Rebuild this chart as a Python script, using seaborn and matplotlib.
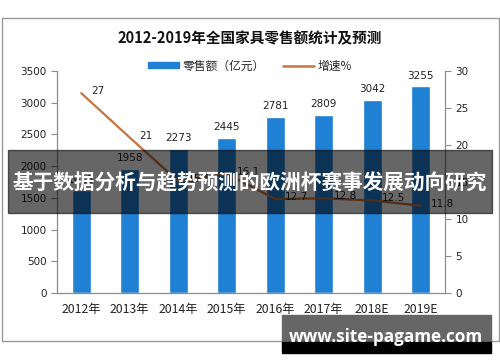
import numpy as np
import pandas as pd
import seaborn as sns
import matplotlib.pyplot as plt
from matplotlib.patches import Rectangle, Patch
from matplotlib.lines import Line2D

years = ['2012年', '2013年', '2014年', '2015年', '2016年', '2017年', '2018E', '2019E']
sales = [1618, 1958, 2273, 2445, 2781, 2809, 3042, 3255]
growth = [27, 21, 15.1, 16.1, 12.7, 12.8, 12.5, 11.8]

bar_color = '#1f80d4'
line_color = '#c8743e'
axis_gray = '#8c8c8c'

sns.set_style('white')
plt.rcParams['font.family'] = ['Noto Sans CJK SC', 'DejaVu Sans']

data = pd.DataFrame({'year': years, 'sales': sales, 'growth': growth})

fig = plt.figure(figsize=(5, 3.62), dpi=100)
ax = fig.add_axes([0.114, 0.1906, 0.776, 0.6134])

sns.barplot(data=data, x='year', y='sales', color=bar_color, width=0.4,
            saturation=1, ax=ax)
ax.bar_label(ax.containers[0], padding=4, fontsize=7.5, color='#222222',
             family='DejaVu Sans')

ax2 = ax.twinx()
sns.lineplot(x=np.arange(len(growth)), y=growth, color=line_color, lw=1.6,
             ax=ax2)
for i, g in enumerate(growth):
    ax2.annotate(f'{g:g}', (i, g), xytext=(10, 2), textcoords='offset pixels',
                 ha='left', va='center', fontsize=7.5, color='#222222',
                 family='DejaVu Sans')

ax.set_xlim(-0.5, len(years) - 0.5)
ax.set_ylim(0, 3500)
ax.set_yticks(range(0, 3501, 500))
ax2.set_ylim(0, 30)
ax2.set_yticks(range(0, 31, 5))
ax.set_xlabel('')
ax.set_ylabel('')
ax2.set_ylabel('')

ax.set_xticks(np.arange(-0.5, len(years), 1), minor=True)
ax.tick_params(axis='x', which='major', length=0, pad=7, labelsize=8.8,
               labelcolor='#222222')
ax.tick_params(axis='x', which='minor', length=4, color=axis_gray,
               direction='out')
ax.tick_params(axis='y', length=4, color=axis_gray, direction='out',
               labelsize=7.5, labelcolor='#222222', left=True)
ax2.tick_params(axis='y', length=4, color=axis_gray, direction='out',
                labelsize=7.5, labelcolor='#222222', right=True)
for lab in ax.get_yticklabels() + ax2.get_yticklabels():
    lab.set_family('DejaVu Sans')

for a in (ax, ax2):
    a.spines['top'].set_visible(False)
    for s in ('left', 'right', 'bottom'):
        a.spines[s].set_color(axis_gray)
        a.spines[s].set_linewidth(0.9)
ax.spines['right'].set_visible(False)
ax2.spines['left'].set_visible(False)
ax2.spines['bottom'].set_visible(False)

fig.text(0.5, 0.895, '2012-2019年全国家具零售额统计及预测', ha='center',
         va='center', fontsize=10.5, fontweight='bold', color='#111111')

handles = [Patch(color=bar_color, label='零售额（亿元）'),
           Line2D([], [], color=line_color, lw=1.8, label='增速%')]
fig.legend(handles=handles, loc='center', bbox_to_anchor=(0.5, 0.818), ncol=2,
           frameon=False, fontsize=8.5, handlelength=2.6, handleheight=0.35,
           columnspacing=1.6, handletextpad=0.3)

# outer chart border
fig.patches.append(Rectangle((0.003, 1 - 341 / 362), 0.994, (341 - 18) / 362,
                             transform=fig.transFigure, fill=False,
                             edgecolor='#999999', lw=1))

# overlay banner
fig.patches.append(Rectangle((8 / 500, 1 - 213 / 362), 484 / 500, 63 / 362,
                             transform=fig.transFigure, color='black',
                             alpha=0.6, zorder=5))
fig.text(0.5, 1 - 183 / 362, '基于数据分析与趋势预测的欧洲杯赛事发展动向研究',
         ha='center', va='center', fontsize=14.9, fontweight='bold',
         color='white', zorder=6)

# bottom site box
fig.patches.append(Rectangle((282 / 500, 1 - 342 / 362), 209 / 500, 27 / 362,
                             transform=fig.transFigure, color='#666666',
                             zorder=5))
fig.patches.append(Rectangle((282 / 500, 1 - 353 / 362), 209 / 500, 11 / 362,
                             transform=fig.transFigure, color='black',
                             zorder=5))
fig.text(386 / 500, 1 - 337 / 362, 'www.site-pagame.com', ha='center',
         va='center', fontsize=12.3, fontweight='bold', color='white',
         family='Open Sans', zorder=6)

fig.savefig('out.png', dpi=100)
